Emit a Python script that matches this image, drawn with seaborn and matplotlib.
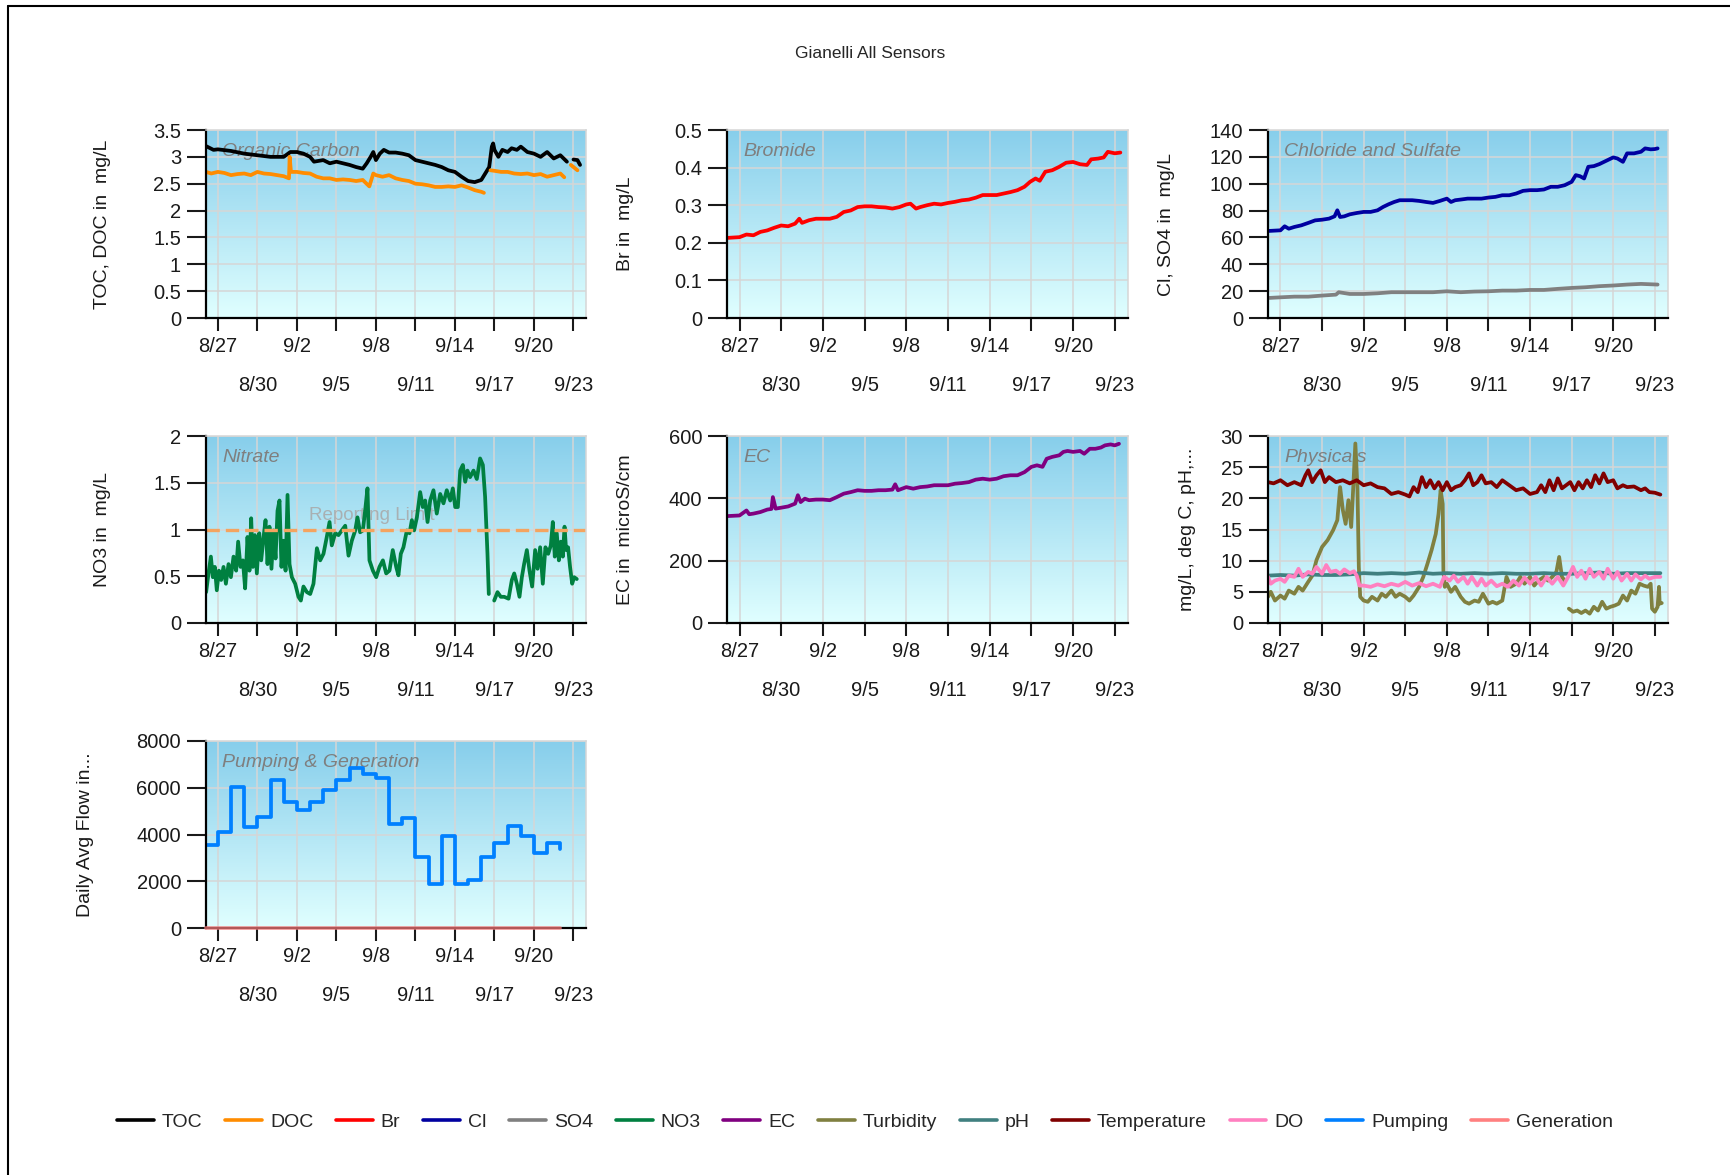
"""
Gianelli sensor dashboard: seven small time-series panels + shared legend.
Values read off the original chart (days counted from 8/26 00:00).
"""

import numpy as np
import pandas as pd
import matplotlib.pyplot as plt
import matplotlib.dates as mdates
import matplotlib.ticker as mticker
from matplotlib.colors import LinearSegmentedColormap
from matplotlib.lines import Line2D
import seaborn as sns

sns.set_style('white')
plt.rcParams['font.family'] = ['Liberation Sans', 'DejaVu Sans']

NA = np.nan
YEAR = '2015'
START = pd.Timestamp(f'{YEAR}-08-26')

# ── data ─────────────────────────────────────────────────────────────────────
MAJOR_DATES = ['8/27', '9/2', '9/8', '9/14', '9/20']
MINOR_DATES = ['8/30', '9/5', '9/11', '9/17', '9/23']

TOC_DAY = [0.1, 0.67, 1, 2, 3, 4, 5, 6, 6.5, 7, 7.5, 8, 8.3, 9, 9.5, 10, 10.5, 11, 11.5, 12,
           12.3, 12.6, 12.8, 13, 13.3, 13.6, 14, 14.5, 15, 15.5, 16, 16.5, 17, 17.5, 18, 18.5,
           19, 19.5, 20, 20.5, 21, 21.3, 21.6, 21.8, 21.9, 22, 22.3, 22.6, 23, 23.3, 23.7, 24,
           24.5, 25, 25.5, 26, 26.5, 27, 27.5, 27.7, 28, 28.3, 28.5]
TOC = [3.20, 3.13, 3.14, 3.11, 3.06, 3.03, 3.00, 3.00, 3.09, 3.09, 3.06, 3.00, 2.91, 2.94, 2.88,
       2.91, 2.88, 2.85, 2.81, 2.78, 2.88, 3.00, 3.09, 2.94, 3.06, 3.13, 3.08, 3.08, 3.06, 3.03,
       2.94, 2.91, 2.88, 2.85, 2.81, 2.75, 2.72, 2.63, 2.55, 2.53, 2.57, 2.69, 2.81, 3.19, 3.25,
       3.13, 3.00, 3.13, 3.09, 3.16, 3.13, 3.19, 3.09, 3.06, 3.00, 3.09, 2.97, 3.03, 2.91, NA,
       2.95, 2.94, 2.85]

DOC_DAY = [0.1, 0.5, 1, 1.5, 2, 2.5, 3, 3.5, 4, 4.5, 5, 5.5, 6, 6.4, 6.45, 6.55, 7, 7.5, 8, 8.5,
           9, 9.5, 10, 10.5, 11, 11.5, 12, 12.5, 12.8, 13, 13.5, 14, 14.5, 15, 15.5, 16, 16.5,
           17, 17.5, 18, 18.5, 19, 19.5, 20, 20.5, 21, 21.2, 21.45, 21.7, 22, 22.5, 23, 23.5,
           24, 24.5, 25, 25.5, 26, 26.5, 27, 27.3, 27.55, 27.8, 28, 28.3]
DOC = [2.72, 2.69, 2.72, 2.70, 2.66, 2.68, 2.69, 2.66, 2.72, 2.69, 2.68, 2.66, 2.64, 2.60, 3.00,
       2.72, 2.72, 2.70, 2.69, 2.63, 2.60, 2.60, 2.57, 2.58, 2.57, 2.55, 2.57, 2.45, 2.69, 2.66,
       2.63, 2.66, 2.60, 2.57, 2.55, 2.50, 2.49, 2.47, 2.44, 2.44, 2.45, 2.44, 2.47, 2.43, 2.38,
       2.35, 2.33, NA, 2.75, 2.74, 2.72, 2.72, 2.69, 2.68, 2.69, 2.66, 2.68, 2.63, 2.66, 2.69,
       2.62, NA, 2.85, 2.81, 2.75]

BR_DAY = [0.1, 1, 1.5, 2, 2.5, 3, 3.5, 4, 4.5, 5, 5.3, 5.5, 6, 6.5, 7, 7.5, 8, 8.5, 9, 9.5, 10,
          10.5, 11, 11.5, 12, 12.5, 13, 13.3, 13.7, 14, 14.5, 15, 15.5, 16, 16.5, 17, 17.5, 18,
          18.5, 19, 19.5, 20, 20.5, 21, 21.5, 21.9, 22.3, 22.6, 23, 23.5, 24, 24.5, 25, 25.5,
          26, 26.3, 26.8, 27.2, 27.5, 28, 28.4]
BR = [0.213, 0.215, 0.222, 0.220, 0.229, 0.233, 0.240, 0.246, 0.244, 0.251, 0.264, 0.253, 0.260,
      0.264, 0.264, 0.264, 0.269, 0.282, 0.286, 0.295, 0.297, 0.297, 0.295, 0.294, 0.291, 0.295,
      0.302, 0.304, 0.291, 0.295, 0.300, 0.304, 0.302, 0.306, 0.309, 0.313, 0.315, 0.320, 0.327,
      0.327, 0.327, 0.331, 0.335, 0.340, 0.349, 0.362, 0.371, 0.365, 0.389, 0.393, 0.402, 0.413,
      0.415, 0.409, 0.407, 0.422, 0.424, 0.427, 0.442, 0.438, 0.440]

CL_DAY = [0.1, 1, 1.3, 1.6, 2, 2.5, 3, 3.5, 4, 4.5, 4.9, 5.1, 5.3, 5.6, 6, 6.5, 7, 7.5, 8, 8.4,
          8.8, 9.2, 9.6, 10, 10.5, 11, 11.5, 12, 12.5, 13, 13.3, 13.6, 14, 14.5, 15, 15.5, 16,
          16.5, 17, 17.5, 18, 18.5, 19, 19.5, 20, 20.5, 21, 21.5, 22, 22.3, 22.6, 22.9, 23.2,
          23.6, 24, 24.5, 25, 25.3, 25.7, 26, 26.5, 27, 27.3, 27.7, 28, 28.2]
CL = [64.8, 65.3, 68.3, 66.5, 67.8, 69.0, 70.8, 72.7, 73.2, 74.0, 75.7, 80.2, 75.2, 75.7, 77.2,
      78.2, 79.0, 79.0, 80.2, 82.7, 84.7, 86.4, 87.7, 87.7, 87.7, 87.2, 86.4, 85.7, 87.2, 88.9,
      86.4, 87.7, 88.2, 88.9, 88.9, 88.9, 89.7, 90.2, 91.4, 91.4, 92.7, 94.7, 95.2, 95.2, 95.7,
      97.7, 97.7, 98.9, 101.4, 106.4, 105.6, 103.9, 112.6, 113.1, 114.6, 117.1, 119.6, 118.8,
      116.3, 122.6, 122.6, 123.8, 126.3, 125.6, 125.8, 126.3]

SO4_DAY = [0.1, 1, 2, 3, 4, 5, 5.2, 6, 7, 8, 9, 10, 11, 12, 13, 14, 15, 16, 17, 18, 19, 20, 21,
           22, 23, 24, 25, 26, 27, 28.2]
SO4 = [14.9, 15.4, 15.9, 15.9, 16.7, 17.4, 19.2, 17.9, 17.9, 18.4, 19.2, 19.2, 19.2, 19.2, 19.9,
       19.2, 19.7, 19.9, 20.4, 20.4, 20.9, 20.9, 21.7, 22.4, 22.9, 23.7, 24.2, 24.9, 25.4, 24.9]

NO3_DAY = [0.11, 0.29, 0.47, 0.62, 0.77, 0.92, 1.08, 1.25, 1.43, 1.61, 1.81, 1.99, 2.19, 2.39,
           2.54, 2.72, 2.90, 3.07, 3.25, 3.40, 3.53, 3.66, 3.81, 3.96, 4.14, 4.29, 4.47, 4.62,
           4.77, 4.92, 5.07, 5.23, 5.38, 5.53, 5.68, 5.83, 5.98, 6.14, 6.29, 6.44, 6.62, 6.87,
           7.12, 7.30, 7.50, 7.76, 8.01, 8.26, 8.52, 8.77, 9.02, 9.27, 9.48, 9.65, 9.91, 10.16,
           10.41, 10.67, 10.92, 11.17, 11.43, 11.60, 11.80, 12.01, 12.18, 12.36, 12.51, 12.77,
           13.02, 13.27, 13.53, 13.78, 14.03, 14.28, 14.54, 14.71, 14.89, 15.09, 15.35, 15.55,
           15.73, 15.90, 16.11, 16.36, 16.56, 16.74, 16.92, 17.12, 17.37, 17.62, 17.88, 18.13,
           18.38, 18.64, 18.84, 19.02, 19.22, 19.40, 19.60, 19.78, 19.95, 20.15, 20.41, 20.66,
           20.91, 21.12, 21.29, 21.47, 21.57, 21.75, 21.98, 22.23, 22.48, 22.74, 23.07, 23.32,
           23.50, 23.70, 23.90, 24.08, 24.25, 24.46, 24.66, 24.86, 25.09, 25.27, 25.47, 25.67,
           25.87, 26.08, 26.28, 26.43, 26.58, 26.73, 26.89, 27.04, 27.19, 27.32, 27.44, 27.59,
           27.74, 27.90, 28.05, 28.25]
NO3 = [0.33, 0.53, 0.71, 0.49, 0.60, 0.35, 0.56, 0.46, 0.60, 0.42, 0.63, 0.49, 0.71, 0.56, 0.87,
       0.60, 0.67, 0.37, 0.92, 0.56, 1.12, 0.60, 0.94, 0.53, 0.96, 0.67, 0.92, 1.10, 0.63, 1.03,
       0.58, 0.99, 0.69, 1.20, 1.31, 0.60, 0.88, 0.56, 1.37, 0.63, 0.49, 0.42, 0.28, 0.24, 0.39,
       0.33, 0.31, 0.42, 0.80, 0.67, 0.74, 0.92, 1.08, 0.83, 0.96, 0.94, 0.99, 1.04, 0.72, 0.88,
       0.99, 1.13, 0.97, 0.99, 1.20, 1.44, 0.67, 0.56, 0.49, 0.60, 0.67, 0.53, 0.56, 0.78, 0.60,
       0.51, 0.74, 0.81, 0.99, 0.96, 1.10, 0.99, 1.13, 1.40, 1.24, 1.31, 1.08, 1.31, 1.42, 1.17,
       1.38, 1.28, 1.42, 1.31, 1.44, 1.24, 1.24, 1.63, 1.69, 1.51, 1.63, 1.56, 1.63, 1.54, 1.76,
       1.69, 1.35, 0.74, 0.31, NA, 0.24, 0.33, 0.28, 0.28, 0.26, 0.46, 0.53, 0.42, 0.28, 0.49,
       0.63, 0.78, 0.56, 0.39, 0.78, 0.58, 0.81, 0.42, 0.81, 0.74, 0.83, 1.08, 0.71, 0.96, 0.67,
       0.87, 0.71, 1.03, 0.78, 0.81, 0.60, 0.42, 0.49, 0.47]
REPORTING_LIMIT = 1.0

EC_DAY = [0.1, 1, 1.5, 1.7, 2, 2.5, 3, 3.3, 3.4, 3.6, 4, 4.5, 5, 5.2, 5.4, 5.7, 6, 6.5, 7, 7.5,
          8, 8.5, 9, 9.5, 10, 10.5, 11, 11.5, 12, 12.2, 12.4, 13, 13.5, 14, 14.5, 15, 15.5, 16,
          16.5, 17, 17.5, 18, 18.5, 19, 19.5, 20, 20.5, 21, 21.5, 22, 22.4, 22.8, 23.1, 23.5,
          24, 24.3, 24.6, 25, 25.5, 25.8, 26.2, 26.6, 27, 27.3, 27.7, 28, 28.3]
EC = [343, 345, 361, 349, 351, 356, 364, 366, 404, 367, 370, 374, 383, 410, 388, 399, 394, 396,
      396, 394, 404, 415, 420, 426, 424, 424, 426, 426, 428, 445, 426, 436, 431, 436, 438, 442,
      442, 442, 447, 449, 452, 460, 463, 460, 463, 471, 474, 474, 484, 501, 506, 501, 527, 533,
      538, 549, 552, 549, 552, 543, 559, 559, 563, 570, 573, 570, 575]

TURB_DAY = [0.1, 0.3, 0.6, 1, 1.3, 1.6, 2, 2.3, 2.6, 3, 3.3, 3.6, 4, 4.4, 4.8, 5.1, 5.3, 5.5,
            5.7, 5.9, 6.1, 6.25, 6.4, 6.55, 6.65, 6.75, 7, 7.3, 7.6, 8, 8.3, 8.6, 9, 9.3, 9.6,
            10, 10.3, 10.6, 11, 11.3, 11.6, 11.9, 12.2, 12.4, 12.55, 12.7, 12.75, 12.85, 13,
            13.3, 13.6, 14, 14.3, 14.6, 15, 15.3, 15.6, 16, 16.3, 16.6, 17, 17.3, 17.6, 18,
            18.3, 18.6, 19, 19.3, 19.6, 20, 20.3, 20.6, 20.9, 21.1, 21.3, 21.5, 21.65, 21.8,
            22.1, 22.4, 22.7, 23, 23.3, 23.6, 23.9, 24.2, 24.5, 24.8, 25.1, 25.4, 25.7, 26,
            26.3, 26.6, 26.9, 27.2, 27.5, 27.7, 27.8, 28, 28.2, 28.3, 28.35, 28.5]
TURB = [4.2, 5.0, 3.6, 4.4, 3.9, 5.2, 4.7, 5.8, 5.2, 6.6, 7.6, 10.1, 12.2, 13.3, 14.9, 16.5, 21.8,
        18.1, 15.9, 19.7, 15.4, 21.8, 28.8, 21.8, 9.0, 4.2, 3.6, 3.4, 4.2, 3.6, 4.7, 4.2, 5.2,
        4.2, 4.7, 4.2, 3.6, 4.4, 5.8, 7.4, 9.5, 11.7, 14.3, 17.5, 21.3, 19.1, 8.4, 5.8, 6.3, 5.0,
        5.8, 4.2, 3.4, 3.1, 3.6, 3.4, 4.7, 3.1, 3.4, 3.1, 3.6, 7.4, 5.8, 6.3, 7.4, 6.3, 7.4, 6.0,
        6.8, 7.4, 6.8, 7.4, 8.2, 10.6, 7.4, 6.8, NA, 2.3, 1.8, 2.0, 1.6, 2.0, 1.5, 2.6, 2.0, 3.4,
        2.3, 2.6, 2.8, 3.1, 4.4, 3.6, 5.2, 4.7, 6.3, 6.0, 5.8, 6.3, 2.3, 1.8, 2.6, 5.8, 3.1, 3.2]

PH_DAY = [0.1, 1, 2, 3, 4, 5, 6, 6.5, 7, 8, 9, 10, 11, 12, 13, 14, 15, 16, 17, 18, 19, 20, 21,
          22, 23, 24, 25, 26, 27, 28.4]
PH = [7.6, 7.7, 7.6, 7.8, 7.7, 7.7, 7.8, 7.9, 8.0, 7.9, 8.0, 7.9, 8.1, 7.9, 8.0, 7.9, 8.0, 7.9,
      8.0, 7.9, 7.9, 8.0, 7.9, 7.9, 8.0, 8.1, 7.9, 8.0, 8.0, 8.0]

TEMP_DAY = [0.1, 0.5, 1, 1.5, 2, 2.5, 2.8, 3, 3.3, 3.6, 3.9, 4.2, 4.5, 5, 5.5, 6, 6.5, 7, 7.5, 8,
            8.5, 9, 9.5, 10, 10.3, 10.6, 10.9, 11.2, 11.5, 11.8, 12.1, 12.4, 12.7, 13, 13.3,
            13.6, 14, 14.3, 14.6, 14.9, 15.2, 15.5, 15.8, 16.2, 16.6, 17, 17.5, 18, 18.5, 19,
            19.5, 19.8, 20.1, 20.4, 20.7, 21, 21.3, 21.6, 21.9, 22.2, 22.5, 22.8, 23.1, 23.4,
            23.7, 24, 24.3, 24.6, 25, 25.3, 25.7, 26, 26.5, 27, 27.3, 27.6, 28, 28.4]
TEMP = [22.6, 22.4, 22.9, 22.1, 22.6, 22.1, 23.7, 24.5, 22.6, 23.7, 24.5, 22.6, 23.4, 22.6, 22.9,
        22.4, 22.9, 22.1, 22.4, 21.8, 21.6, 20.7, 21.0, 20.6, 20.3, 21.8, 21.0, 23.4, 21.8, 22.9,
        21.6, 22.6, 21.3, 22.6, 21.3, 21.8, 22.1, 22.9, 24.0, 22.1, 22.6, 23.7, 22.4, 22.6, 21.8,
        22.9, 22.1, 21.3, 21.6, 20.7, 21.0, 22.1, 21.0, 22.9, 21.3, 23.2, 21.6, 22.1, 22.6, 21.3,
        22.6, 21.6, 22.9, 21.8, 23.7, 22.4, 24.0, 22.6, 22.9, 21.6, 22.1, 21.8, 21.9, 21.3, 21.6,
        21.0, 20.9, 20.6]

DO_DAY = [0.1, 0.3, 0.6, 1, 1.3, 1.6, 2, 2.3, 2.6, 3, 3.3, 3.6, 4, 4.3, 4.6, 5, 5.3, 5.6, 6, 6.3,
          6.5, 6.7, 7, 7.5, 8, 8.5, 9, 9.5, 10, 10.5, 11, 11.5, 12, 12.5, 12.8, 13.2, 13.5, 13.8,
          14.2, 14.5, 14.8, 15.2, 15.5, 15.8, 16.2, 16.6, 17, 17.4, 17.8, 18.2, 18.6, 19, 19.4,
          19.8, 20.2, 20.6, 21, 21.4, 21.8, 22.1, 22.4, 22.7, 23, 23.3, 23.6, 24, 24.3, 24.6,
          25, 25.3, 25.6, 26, 26.3, 26.6, 27, 27.3, 27.6, 28, 28.4]
DO = [7.4, 6.3, 6.8, 7.1, 6.6, 7.6, 7.4, 8.7, 7.4, 8.2, 7.9, 9.0, 7.9, 9.3, 8.2, 8.4, 7.9, 8.6,
      8.0, 8.3, 7.6, 6.0, 6.0, 5.8, 6.2, 5.9, 6.3, 6.0, 6.6, 6.0, 6.4, 5.9, 6.3, 5.8, 7.4, 6.8,
      7.6, 6.6, 7.4, 6.3, 7.4, 6.0, 7.1, 6.0, 6.8, 5.9, 6.3, 5.8, 6.8, 6.0, 7.3, 6.3, 7.4, 6.0,
      7.4, 6.3, 7.4, 6.0, 7.6, 9.0, 7.4, 8.4, 7.1, 8.7, 7.4, 8.2, 7.1, 8.7, 7.1, 8.2, 6.8, 7.9,
      6.8, 7.8, 7.0, 7.6, 7.1, 7.4, 7.4]

PUMP_DAY = [0.1, 1, 2, 3, 4, 5, 6, 7, 8, 9, 10, 11, 12, 13, 14, 15, 16, 17, 18, 19, 20, 21, 22,
            23, 24, 25, 26, 27]
PUMP = [3550, 4100, 6050, 4300, 4750, 6350, 5400, 5050, 5400, 5900, 6350, 6850, 6600, 6400, 4450,
        4700, 3050, 1900, 3950, 1900, 2050, 3050, 3650, 4350, 3950, 3200, 3650, 3400]
GEN_DAY = [0.1, 27]
GEN = [0, 0]

COLORS = {
    'TOC': '#000000', 'DOC': '#FF8C00', 'Br': '#FF0000', 'Cl': '#0000A0',
    'SO4': '#808080', 'NO3': '#008040', 'EC': '#800080', 'Turbidity': '#808040',
    'pH': '#408080', 'Temperature': '#800000', 'DO': '#FF80C0',
    'Pumping': '#0080FF', 'Generation': '#FF8080',
}

# ── layout (pixels in a 1730 x 1175 canvas) ──────────────────────────────────
W, H = 1730, 1175
X_LO, X_HI = 0.1, 28.95
LW = 2.7
GRID = '#D6D6D6'
BG = LinearSegmentedColormap.from_list('bg', ['#E0FFFF', '#87CEEB'])


def to_time(days):
    return START + pd.to_timedelta(np.asarray(days, dtype=float), unit='D')


def to_dates(labels):
    return mdates.date2num(pd.to_datetime([f'{YEAR}/{d}' for d in labels], format='%Y/%m/%d'))


def draw(ax, days, vals, color, lw=LW, **kw):
    df = pd.DataFrame({'time': to_time(days), 'value': np.asarray(vals, dtype=float)})
    df['seg'] = df['value'].isna().cumsum()
    df = df.dropna()
    sns.lineplot(data=df, x='time', y='value', units='seg', estimator=None, sort=False,
                 color=color, lw=lw, ax=ax, legend=False, **kw)


def panel(rect, title, ylabel, ymax, ystep, label_off):
    l, t, w, h = rect
    ax = fig.add_axes([l / W, 1 - (t + h) / H, w / W, h / H])
    ax.imshow(np.linspace(0, 1, 256).reshape(-1, 1), cmap=BG, origin='lower',
              extent=[0, 1, 0, 1], transform=ax.transAxes, aspect='auto', zorder=0,
              interpolation='bicubic')
    ax._meta = (ymax, ystep, label_off, w, title, ylabel)
    return ax


def finish(ax):
    ymax, ystep, label_off, w, title, ylabel = ax._meta
    ax.set_xlim(to_time([X_LO, X_HI]))
    ax.set_ylim(0, ymax)
    ax.set_yticks(np.arange(0, ymax + ystep / 2, ystep))
    ax.yaxis.set_major_formatter(mticker.FuncFormatter(lambda v, _: f'{v:g}'))
    ax.set_xticks(to_dates(MAJOR_DATES), labels=MAJOR_DATES)
    ax.set_xticks(to_dates(MINOR_DATES), labels=MINOR_DATES, minor=True)

    ax.set_axisbelow(True)
    ax.grid(axis='x', which='both', color=GRID, lw=1.1)
    ax.grid(axis='y', which='major', color=GRID, lw=1.1)
    for s in ['left', 'bottom']:
        ax.spines[s].set_color('black')
        ax.spines[s].set_linewidth(1.6)
    for s in ['top', 'right']:
        ax.spines[s].set_color(GRID)
        ax.spines[s].set_linewidth(1.1)

    ax.tick_params(axis='y', direction='out', length=14, width=1.5, pad=4,
                   labelsize=14.5, colors='#1a1a1a', left=True)
    ax.tick_params(axis='x', which='both', direction='out', length=9.5, width=1.5,
                   labelsize=14.5, colors='#1a1a1a', bottom=True)
    ax.tick_params(axis='x', which='major', pad=4.5)
    ax.tick_params(axis='x', which='minor', pad=32)

    ax.set_xlabel('')
    ax.set_ylabel(ylabel, fontsize=14, va='center', color='#1a1a1a')
    ax.yaxis.set_label_coords(-label_off / w, 0.5)
    ax.annotate(title, xy=(0, 1), xycoords='axes fraction', xytext=(11.5, -15.8),
                textcoords='offset points', ha='left', va='center', fontsize=14,
                style='italic', color='#7F7F7F', zorder=1.5)


fig = plt.figure(figsize=(W / 100, H / 100), dpi=100)

# ── 1. organic carbon ────────────────────────────────────────────────────────
ax1 = panel((206, 130, 380, 188), 'Organic Carbon', 'TOC, DOC in  mg/L', 3.5, 0.5, 103.7)
draw(ax1, TOC_DAY, TOC, COLORS['TOC'])
draw(ax1, DOC_DAY, DOC, COLORS['DOC'])

# ── 2. bromide ───────────────────────────────────────────────────────────────
ax2 = panel((727, 130, 401, 188), 'Bromide', 'Br in  mg/L', 0.5, 0.1, 101.4)
draw(ax2, BR_DAY, BR, COLORS['Br'])

# ── 3. chloride and sulfate ──────────────────────────────────────────────────
ax3 = panel((1268, 130, 400, 188), 'Chloride and Sulfate', 'Cl, SO4 in  mg/L', 140, 20, 101.6)
draw(ax3, CL_DAY, CL, COLORS['Cl'])
draw(ax3, SO4_DAY, SO4, COLORS['SO4'])

# ── 4. nitrate ───────────────────────────────────────────────────────────────
ax4 = panel((206, 436, 380, 187), 'Nitrate', 'NO3 in  mg/L', 2, 0.5, 103.7)
draw(ax4, NO3_DAY, NO3, COLORS['NO3'])
ax4.axhline(REPORTING_LIMIT, color='#F4A460', lw=2.4, dashes=(4, 1.8), zorder=2.5)
ax4.text(to_time([7.9])[0], 1.15, 'Reporting Limit', ha='left', va='center', fontsize=13.5,
         color='#A8A8A8', alpha=0.85, zorder=1.5)

# ── 5. EC ────────────────────────────────────────────────────────────────────
ax5 = panel((727, 436, 401, 187), 'EC', 'EC in  microS/cm', 600, 200, 101.4)
draw(ax5, EC_DAY, EC, COLORS['EC'])

# ── 6. physicals ─────────────────────────────────────────────────────────────
ax6 = panel((1268, 436, 400, 187), 'Physicals', 'mg/L, deg C, pH,...', 30, 5, 80.7)
draw(ax6, TURB_DAY, TURB, COLORS['Turbidity'])
draw(ax6, PH_DAY, PH, COLORS['pH'])
draw(ax6, TEMP_DAY, TEMP, COLORS['Temperature'])
draw(ax6, DO_DAY, DO, COLORS['DO'])

# ── 7. pumping & generation ──────────────────────────────────────────────────
ax7 = panel((206, 741, 380, 187), 'Pumping & Generation', 'Daily Avg Flow in...', 8000, 2000, 121)
draw(ax7, PUMP_DAY, PUMP, COLORS['Pumping'], drawstyle='steps-post')
draw(ax7, GEN_DAY, GEN, COLORS['Generation'], alpha=0.7, zorder=3, clip_on=False)

for ax in [ax1, ax2, ax3, ax4, ax5, ax6, ax7]:
    finish(ax)

# ── title, legend, frame ─────────────────────────────────────────────────────
fig.text(870 / W, 1 - 53 / H, 'Gianelli All Sensors', ha='center', va='center', fontsize=12.5)

handles = [Line2D([], [], color=c, lw=2.6) for c in COLORS.values()]
fig.legend(handles, list(COLORS.keys()), loc='center', bbox_to_anchor=(0.5, 1 - 1122 / H),
           ncol=len(COLORS), frameon=False, fontsize=14, handlelength=1.9,
           handletextpad=0.4, columnspacing=1.17)

fig.add_artist(Line2D([8 / W, 1], [1 - 6 / H, 1 - 6 / H], color='black', lw=1.5))
fig.add_artist(Line2D([8 / W, 8 / W], [0, 1 - 6 / H], color='black', lw=1.5))

fig.savefig('out.png', dpi=100)
